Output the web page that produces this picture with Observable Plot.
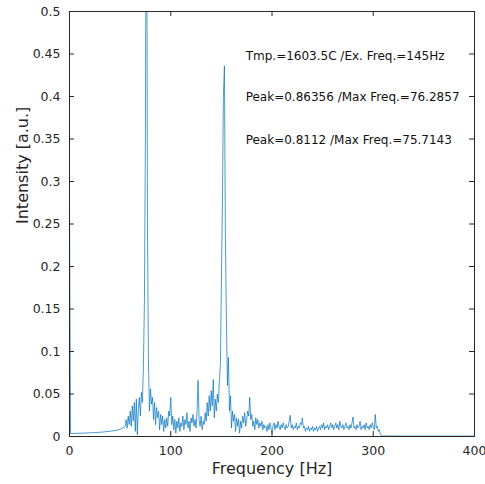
<!DOCTYPE html>
<html>
<head>
<meta charset="utf-8">
<script src="https://cdn.jsdelivr.net/npm/d3@7"></script>
<script src="https://cdn.jsdelivr.net/npm/@observablehq/plot@0.6"></script>
<style>
  html, body { margin: 0; padding: 0; background: #fff; }
  #chart svg { display: block; }
</style>
</head>
<body>
<div id="chart"></div>
<script>
// ---- data ----
const xTicks = [0, 100, 200, 300, 400];
const yTicks = [0, 0.05, 0.1, 0.15, 0.2, 0.25, 0.3, 0.35, 0.4, 0.45, 0.5];
const yTickLabels = ["0", "0.05", "0.1", "0.15", "0.2", "0.25", "0.3", "0.35", "0.4", "0.45", "0.5"];

// smooth low-frequency part (DC spike + slowly rising baseline)
const freqLow = [0, 1, 5, 10, 15, 20, 25, 30, 35, 40, 45, 50, 54];
const intensityLow = [0.28, 0.0035, 0.0036, 0.0038, 0.004, 0.0043, 0.0046, 0.005, 0.0055, 0.0062, 0.007, 0.0085, 0.011];

// noisy part, one value per Hz from 55 Hz to 310 Hz
const noiseStartHz = 55;
const intensityNoise = [
  0.012, 0.020, 0.010, 0.024, 0.014, 0.030, 0.012, 0.036, 0.018, 0.040, // 55-64
  0.006, 0.044, 0.002, 0.032, 0.046, 0.024, 0.052, 0.040, 0.082, 0.16,  // 65-74
  0.36, 0.86, 0.25, 0.085, 0.030, 0.056, 0.038, 0.046, 0.020, 0.040,     // 75-84
  0.014, 0.034, 0.022, 0.030, 0.008, 0.026, 0.014, 0.024, 0.006, 0.020,  // 85-94
  0.010, 0.022, 0.012, 0.030, 0.024, 0.046, 0.014, 0.024, 0.008, 0.020,  // 95-104
  0.004, 0.018, 0.010, 0.022, 0.006, 0.016, 0.012, 0.024, 0.008, 0.020,  // 105-114
  0.014, 0.028, 0.010, 0.018, 0.006, 0.022, 0.016, 0.026, 0.012, 0.020,  // 115-124
  0.010, 0.030, 0.066, 0.020, 0.012, 0.024, 0.008, 0.018, 0.014, 0.028,  // 125-134
  0.018, 0.040, 0.024, 0.048, 0.030, 0.054, 0.036, 0.067, 0.022, 0.044,  // 135-144
  0.030, 0.050, 0.040, 0.064, 0.085, 0.18, 0.27, 0.40, 0.436, 0.23,      // 145-154
  0.135, 0.060, 0.093, 0.030, 0.048, 0.010, 0.030, 0.018, 0.026, 0.006,  // 155-164
  0.022, 0.012, 0.020, 0.004, 0.018, 0.010, 0.024, 0.016, 0.028, 0.012,  // 165-174
  0.020, 0.030, 0.024, 0.046, 0.020, 0.026, 0.012, 0.018, 0.008, 0.022,  // 175-184
  0.014, 0.020, 0.010, 0.016, 0.012, 0.018, 0.008, 0.014, 0.010, 0.012,  // 185-194
  0.006, 0.014, 0.008, 0.016, 0.010, 0.004, 0.012, 0.016, 0.008, 0.014,  // 195-204
  0.010, 0.018, 0.012, 0.008, 0.014, 0.010, 0.016, 0.012, 0.008, 0.014,  // 205-214
  0.010, 0.012, 0.018, 0.025, 0.010, 0.014, 0.008, 0.012, 0.010, 0.016,  // 215-224
  0.008, 0.012, 0.010, 0.016, 0.014, 0.022, 0.010, 0.012, 0.006, 0.010,  // 225-234
  0.008, 0.012, 0.006, 0.010, 0.008, 0.012, 0.006, 0.010, 0.008, 0.012,  // 235-244
  0.006, 0.010, 0.012, 0.008, 0.014, 0.010, 0.016, 0.008, 0.012, 0.010,  // 245-254
  0.014, 0.008, 0.012, 0.016, 0.010, 0.014, 0.008, 0.012, 0.016, 0.010,  // 255-264
  0.014, 0.008, 0.018, 0.012, 0.010, 0.014, 0.008, 0.012, 0.016, 0.010,  // 265-274
  0.012, 0.008, 0.014, 0.010, 0.016, 0.023, 0.010, 0.012, 0.008, 0.014,  // 275-284
  0.010, 0.012, 0.018, 0.008, 0.012, 0.010, 0.014, 0.008, 0.016, 0.010,  // 285-294
  0.012, 0.008, 0.014, 0.010, 0.016, 0.012, 0.008, 0.026, 0.010, 0.012,  // 295-304
  0.006, 0.008, 0.003, 0.001, 0.0008, 0.0006                            // 305-310
];

// flat tail
const freqTail = [330, 400];
const intensityTail = [0.0005, 0.0005];

const annotationTexts = [
  "Tmp.=1603.5C /Ex. Freq.=145Hz",
  "Peak=0.86356 /Max Freq.=76.2857",
  "Peak=0.8112 /Max Freq.=75.7143"
];
const annotationX = 174;
const annotationY = [0.447, 0.399, 0.349];

const xLabel = "Frequency [Hz]";
const yLabel = "Intensity [a.u.]";

// ---- build table ----
const spectrum = [];
freqLow.forEach((f, i) => spectrum.push({f, v: intensityLow[i]}));
intensityNoise.forEach((v, i) => spectrum.push({f: noiseStartHz + i, v}));
freqTail.forEach((f, i) => spectrum.push({f, v: intensityTail[i]}));

const annotations = annotationTexts.map((t, i) => ({t, x: annotationX, y: annotationY[i]}));

const ink = "#262626";
const font = "'DejaVu Sans', sans-serif";
const xTickLen = 4.9;    // Hz  (~5px)
const yTickLen = 0.0059; // a.u. (~5px)

const chart = Plot.plot({
  width: 485,
  height: 484,
  marginLeft: 69,
  marginRight: 11,
  marginTop: 11,
  marginBottom: 48,
  style: {fontFamily: font, fontSize: "12.5px", color: ink, background: "#fff"},
  x: {domain: [0, 400]},
  y: {domain: [0, 0.5]},
  marks: [
    Plot.line(spectrum, {x: "f", y: "v", stroke: "#0072BD", strokeWidth: 1, strokeOpacity: 0.7, clip: true}),
    Plot.frame({stroke: ink, strokeWidth: 1}),
    // inward ticks, all four sides
    Plot.ruleY(yTicks, {y: d => d, x1: 0, x2: xTickLen, stroke: ink}),
    Plot.ruleY(yTicks, {y: d => d, x1: 400 - xTickLen, x2: 400, stroke: ink}),
    Plot.ruleX(xTicks, {x: d => d, y1: 0, y2: yTickLen, stroke: ink}),
    Plot.ruleX(xTicks, {x: d => d, y1: 0.5 - yTickLen, y2: 0.5, stroke: ink}),
    Plot.axisX({ticks: xTicks, tickSize: 0, tickPadding: 10, label: null, fontSize: 12.5, fill: ink}),
    Plot.axisY({ticks: yTicks, tickSize: 0, tickPadding: 9, label: null, fontSize: 12.5, fill: ink,
      tickFormat: d => yTickLabels[yTicks.indexOf(d)]}),
    Plot.text([xLabel], {text: d => d, frameAnchor: "bottom", dy: 37, fontSize: 16, fill: ink}),
    Plot.text([yLabel], {text: d => d, frameAnchor: "left", rotate: -90, dx: -47, fontSize: 16, fill: ink}),
    Plot.text(annotations, {x: "x", y: "y", text: "t", textAnchor: "start", fontSize: 12, fill: "#111"})
  ]
});
document.getElementById("chart").appendChild(chart);
</script>
</body>
</html>
